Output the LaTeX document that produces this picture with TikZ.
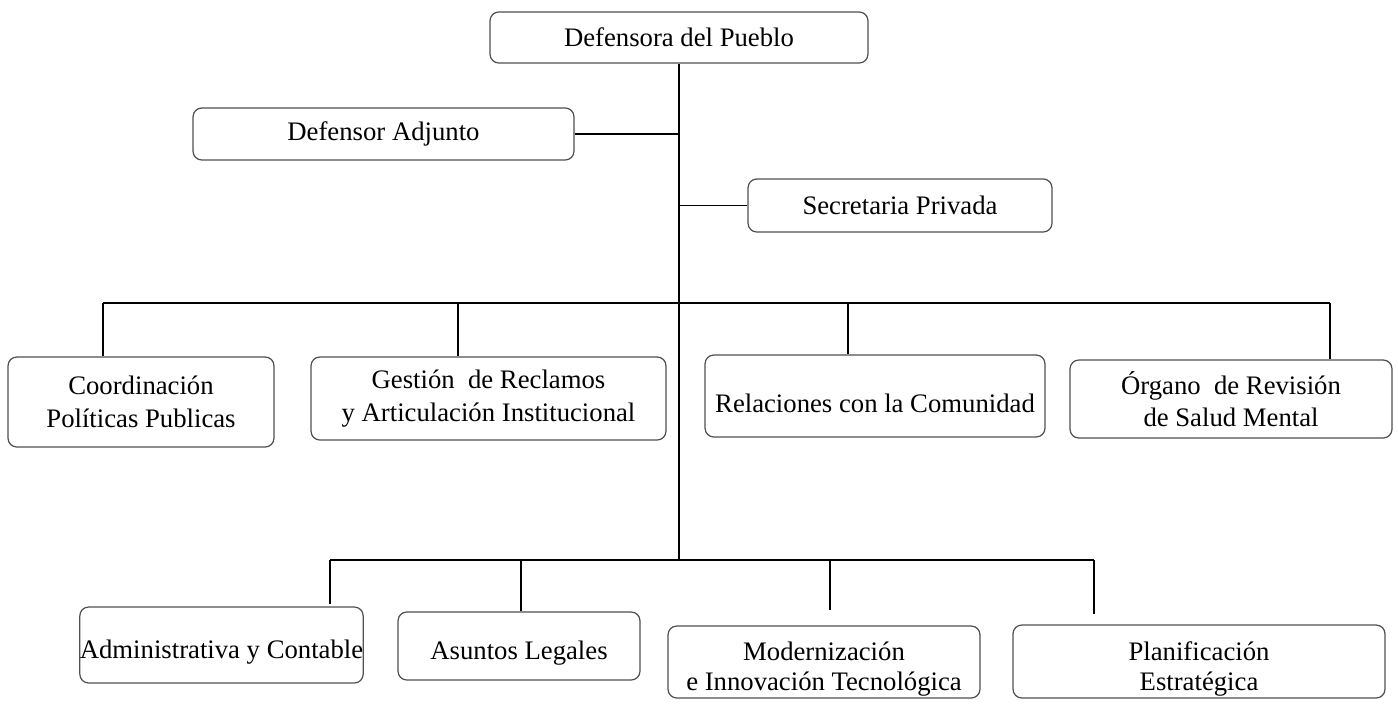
\documentclass[tikz,border=0pt]{standalone}
\usepackage{fontspec}
\setmainfont{Liberation Serif}
\usetikzlibrary{positioning,calc}
\definecolor{orgBoxLine}{HTML}{505050}
\definecolor{orgLink}{HTML}{000000}

\begin{document}
\begin{tikzpicture}[x=0.02cm, y=-0.02cm,
  orgbox/.style={draw=orgBoxLine, line width=0.7pt, rounded corners=5pt,
    align=center, inner sep=0pt, font=\fontsize{15.2}{18.5}\selectfont},
  tight/.style={font=\fontsize{15.2}{17}\selectfont},
  orglink/.style={draw=orgLink, line width=1.1pt}]

%% --- CANVAS ---
\useasboundingbox (0,0) rectangle (1398,703);

% --- TOP LEVEL ---
\node[orgbox, minimum width=7.56cm, minimum height=1.02cm]
  (dp) at (679,37.5) {Defensora del Pueblo};
\node[orgbox, minimum width=7.62cm, minimum height=1.04cm]
  (da) at (383.5,134) {Defensor Adjunto};
\node[orgbox, minimum width=6.08cm, minimum height=1.06cm]
  (sp) at (900,205.5) {Secretaria Privada};

% --- FIRST ROW ---
\node[orgbox, minimum width=5.32cm, minimum height=1.80cm]
  (cp) at (141,402) {Coordinación\\Políticas Publicas};
\node[orgbox, minimum width=7.10cm, minimum height=1.66cm]
  (gr) at (488.5,398.5) {Gestión~ de Reclamos\\y Articulación Institucional};
\node[orgbox, minimum width=6.80cm, minimum height=1.64cm]
  (rc) at (875,396) {\mbox{}\\Relaciones con la Comunidad};
\node[orgbox, minimum width=6.44cm, minimum height=1.56cm]
  (or) at (1231,399) {Órgano~ de Revisión\\de Salud Mental};

% --- SECOND ROW ---
\node[orgbox, minimum width=5.66cm, minimum height=1.52cm]
  (ac) at (221.5,645) {\mbox{}\\Administrativa y Contable};
\node[orgbox, minimum width=4.84cm, minimum height=1.36cm]
  (al) at (519,646) {\mbox{}\\Asuntos Legales};
\node[orgbox, tight, minimum width=6.24cm, minimum height=1.44cm]
  (mi) at (824,662) {\rule{0pt}{19pt}Modernización\\e Innovación Tecnológica};
\node[orgbox, tight, minimum width=7.44cm, minimum height=1.46cm]
  (pe) at (1199,661.5) {\rule{0pt}{19pt}Planificación\\Estratégica};

% --- BUS POINTS ---
\coordinate (b1w) at (103,303);
\coordinate (b1e) at (1330,303);
\coordinate (b2w) at (330,560);
\coordinate (b2e) at (1094,560);

% --- TRUNK + SIDE LINKS ---
\draw[orglink] (dp.south) -- (dp.south |- b2w);
\draw[orglink] (da.east) -- (da.east -| dp.south);
\draw[orglink] (sp.west) -- (sp.west -| dp.south);

% --- FIRST BUS ---
\draw[orglink] (b1w) -- (b1e);
\foreach \dx/\unit in {103/cp, 458/gr, 848/rc, 1330/or} {
  \coordinate (d\unit) at (\dx,303);
  \draw[orglink] (d\unit) -- (d\unit |- \unit.north);
}

% --- SECOND BUS ---
\draw[orglink] (b2w) -- (b2e);
\foreach \dx/\unit/\gap in {330/ac/0.04, 521/al/0, 830/mi/0.3, 1094/pe/0.2} {
  \coordinate (d\unit) at (\dx,560);
  \draw[orglink, shorten >=\gap cm] (d\unit) -- (d\unit |- \unit.north);
}

\end{tikzpicture}
\end{document}
